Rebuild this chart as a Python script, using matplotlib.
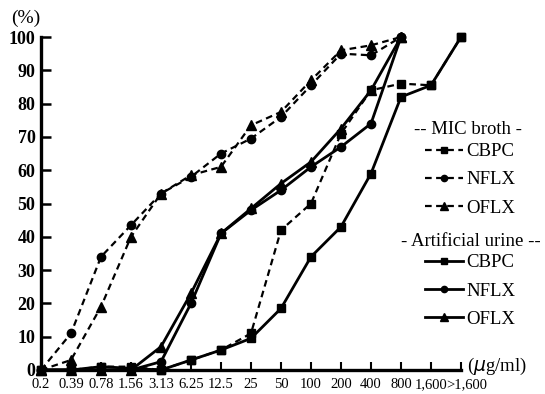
import matplotlib.pyplot as plt
from matplotlib.transforms import ScaledTranslation

plt.rcParams['font.family'] = ['Liberation Serif', 'DejaVu Serif']

# MIC categories (ug/ml)
conc = ['0.2', '0.39', '0.78', '1.56', '3.13', '6.25', '12.5', '25',
        '50', '100', '200', '400', '800', '1,600', '>1,600']

# cumulative % inhibited, MIC broth
broth_cbpc = [0, 0, 1, 1, 0, 3, 6, 11, 42, 50, 71, 84, 86, 85.5, 100]
broth_nflx = [0, 11, 34, 43.5, 53, 58, 65, 69.5, 76, 85.5, 95, 94.5, 100]
broth_oflx = [0, 3, 19, 40, 53, 58.5, 61, 73.5, 77.5, 87, 96, 97.5, 100]

# cumulative % inhibited, artificial urine
urine_cbpc = [0, 0, 1, 0.5, 0, 3, 6, 9.5, 18.5, 34, 43, 59, 82, 85.5, 100]
urine_nflx = [0, 0, 0, 0, 2.5, 20, 41, 48, 54, 61, 67, 74, 100]
urine_oflx = [0, 0, 0, 0, 7, 23, 41, 48.5, 56, 62.5, 72.5, 84, 100]

labels = ['CBPC', 'NFLX', 'OFLX']

fig = plt.figure(figsize=(5.45, 3.94), dpi=100)
ax = fig.add_axes([41 / 545, 24 / 394, 420 / 545, 333 / 394])

dash = (0, (3, 2))
lw_d, lw_s = 1.6, 2.0
ms = {'s': 6.2, 'o': 6.0, '^': 7.0}

x = list(range(len(conc)))

broth = [broth_cbpc, broth_nflx, broth_oflx]
urine = [urine_cbpc, urine_nflx, urine_oflx]
marks = ['s', 'o', '^']

broth_lines = []
for vals, m in zip(broth, marks):
    ln, = ax.plot(x[:len(vals)], vals, color='black', linestyle=dash, lw=lw_d,
                  marker=m, ms=ms[m], clip_on=False, zorder=3)
    broth_lines.append(ln)

urine_lines = []
for vals, m in zip(urine, marks):
    ln, = ax.plot(x[:len(vals)], vals, color='black', linestyle='-', lw=lw_s,
                  marker=m, ms=ms[m], clip_on=False, zorder=4)
    urine_lines.append(ln)

ax.set_xlim(0, len(conc) - 1)
ax.set_ylim(0, 100)
ax.set_xticks(x)
ax.set_xticklabels(conc, fontsize=10.5)
ax.set_yticks(range(0, 101, 10))
ax.set_yticklabels([str(v) for v in range(0, 101, 10)], fontsize=13,
                   fontweight='bold')
ax.tick_params(axis='x', direction='in', length=6, width=1.5, pad=6)
ax.tick_params(axis='y', direction='in', length=7, width=1.8, pad=4)

# nudge the last label right, as in the printed figure
last = ax.get_xticklabels()[-1]
last.set_transform(last.get_transform() +
                   ScaledTranslation(6 / 100, 0, fig.dpi_scale_trans))

for s in ['top', 'right']:
    ax.spines[s].set_visible(False)
ax.spines['left'].set_linewidth(2.4)
ax.spines['bottom'].set_linewidth(2.4)

fig.text(11 / 545, 1 - 18 / 394, '(%)', fontsize=14, va='center', ha='left')
fig.text(467 / 545, 1 - 366 / 394, '($\\mathit{\\mu}$g/ml)', fontsize=13.5,
         va='center', ha='left')

fig.text(468 / 545, 1 - 130 / 394, '-- MIC broth -', fontsize=13.5,
         va='center', ha='center')
fig.text(471 / 545, 1 - 242 / 394, '- Artificial urine --', fontsize=13.5,
         va='center', ha='center')

leg_kw = dict(frameon=False, fontsize=13.5,
              handlelength=2.0, handletextpad=0.2, labelspacing=0.6,
              markerscale=0.75, borderpad=0, borderaxespad=0, loc='upper left',
              bbox_transform=fig.transFigure)

leg1 = ax.legend(broth_lines, labels,
                 bbox_to_anchor=(425 / 545, 1 - 143 / 394), **leg_kw)
ax.add_artist(leg1)
leg2 = ax.legend(urine_lines, labels,
                 bbox_to_anchor=(425 / 545, 1 - 254 / 394), **leg_kw)

fig.savefig('out.png', dpi=100)
